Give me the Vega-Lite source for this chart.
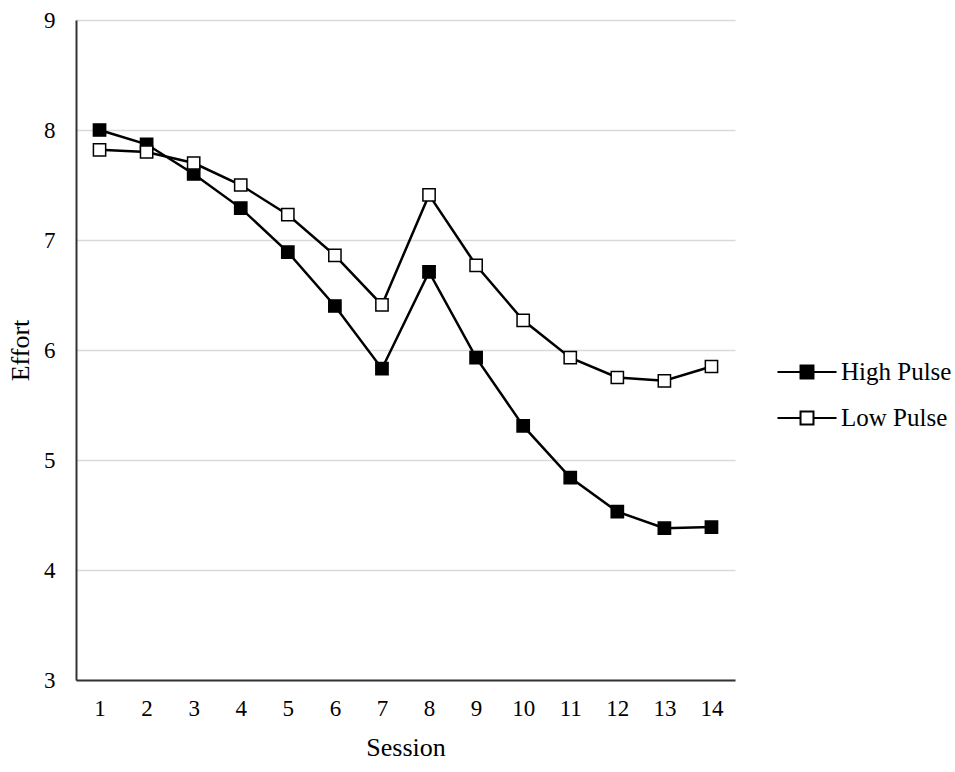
{
  "$schema": "https://vega.github.io/schema/vega-lite/v6.json",
  "width": 659,
  "height": 660,
  "autosize": {"type": "none"},
  "padding": {"left": 76, "top": 20, "right": 220, "bottom": 92},
  "background": "white",
  "config": {
    "font": "Liberation Serif",
    "view": {"stroke": null}
  },
  "data": {
    "values": [
      {"session": 1, "group": "High Pulse", "effort": 8.0},
      {"session": 2, "group": "High Pulse", "effort": 7.87},
      {"session": 3, "group": "High Pulse", "effort": 7.6},
      {"session": 4, "group": "High Pulse", "effort": 7.29},
      {"session": 5, "group": "High Pulse", "effort": 6.89},
      {"session": 6, "group": "High Pulse", "effort": 6.4},
      {"session": 7, "group": "High Pulse", "effort": 5.83},
      {"session": 8, "group": "High Pulse", "effort": 6.71},
      {"session": 9, "group": "High Pulse", "effort": 5.93},
      {"session": 10, "group": "High Pulse", "effort": 5.31},
      {"session": 11, "group": "High Pulse", "effort": 4.84},
      {"session": 12, "group": "High Pulse", "effort": 4.53},
      {"session": 13, "group": "High Pulse", "effort": 4.38},
      {"session": 14, "group": "High Pulse", "effort": 4.39},
      {"session": 1, "group": "Low Pulse", "effort": 7.82},
      {"session": 2, "group": "Low Pulse", "effort": 7.8},
      {"session": 3, "group": "Low Pulse", "effort": 7.7},
      {"session": 4, "group": "Low Pulse", "effort": 7.5},
      {"session": 5, "group": "Low Pulse", "effort": 7.23},
      {"session": 6, "group": "Low Pulse", "effort": 6.86},
      {"session": 7, "group": "Low Pulse", "effort": 6.41},
      {"session": 8, "group": "Low Pulse", "effort": 7.41},
      {"session": 9, "group": "Low Pulse", "effort": 6.77},
      {"session": 10, "group": "Low Pulse", "effort": 6.27},
      {"session": 11, "group": "Low Pulse", "effort": 5.93},
      {"session": 12, "group": "Low Pulse", "effort": 5.75},
      {"session": 13, "group": "Low Pulse", "effort": 5.72},
      {"session": 14, "group": "Low Pulse", "effort": 5.85}
    ]
  },
  "encoding": {
    "x": {
      "field": "session",
      "type": "ordinal",
      "sort": "ascending",
      "scale": {"type": "point", "padding": 0.5},
      "axis": {
        "title": "Session",
        "titleFont": "Liberation Serif",
        "titleFontSize": 26,
        "titleFontWeight": "normal",
        "titleColor": "black",
        "titlePadding": 14,
        "labelFont": "Liberation Serif",
        "labelFontSize": 23,
        "labelColor": "black",
        "labelAngle": 0,
        "labelPadding": 17,
        "ticks": false,
        "grid": false,
        "domainColor": "#333333",
        "domainWidth": 2
      }
    },
    "y": {
      "field": "effort",
      "type": "quantitative",
      "scale": {"domain": [3, 9], "nice": false, "zero": false},
      "axis": {
        "title": "Effort",
        "titleFont": "Liberation Serif",
        "titleFontSize": 26,
        "titleFontWeight": "normal",
        "titleColor": "black",
        "titlePadding": 10,
        "values": [3, 4, 5, 6, 7, 8, 9],
        "labelFont": "Liberation Serif",
        "labelFontSize": 23,
        "labelColor": "black",
        "labelPadding": 21,
        "ticks": false,
        "grid": true,
        "gridColor": "#d9d9d9",
        "gridWidth": 1.5,
        "domainColor": "#333333",
        "domainWidth": 2
      }
    }
  },
  "layer": [
    {
      "mark": {"type": "line", "color": "black", "strokeWidth": 2.5},
      "encoding": {
        "detail": {"field": "group", "type": "nominal"}
      }
    },
    {
      "mark": {
        "type": "point",
        "shape": "square",
        "size": 150,
        "filled": true,
        "stroke": "black",
        "strokeWidth": 1.5,
        "opacity": 1
      },
      "encoding": {
        "fill": {
          "field": "group",
          "type": "nominal",
          "scale": {"domain": ["High Pulse", "Low Pulse"], "range": ["black", "white"]},
          "legend": {
            "title": null,
            "orient": "none",
            "legendX": 718,
            "legendY": 339,
            "padding": 0,
            "symbolType": "M-2.46,0H-0.54M0.54,0H2.46M-0.54,-0.54H0.54V0.54H-0.54Z",
            "symbolSize": 576,
            "symbolStrokeColor": "black",
            "symbolStrokeWidth": 2,
            "symbolOpacity": 1,
            "labelFont": "Liberation Serif",
            "labelFontSize": 25,
            "labelColor": "black",
            "labelOffset": 21,
            "labelLimit": 300,
            "rowPadding": 20
          }
        }
      }
    }
  ]
}
